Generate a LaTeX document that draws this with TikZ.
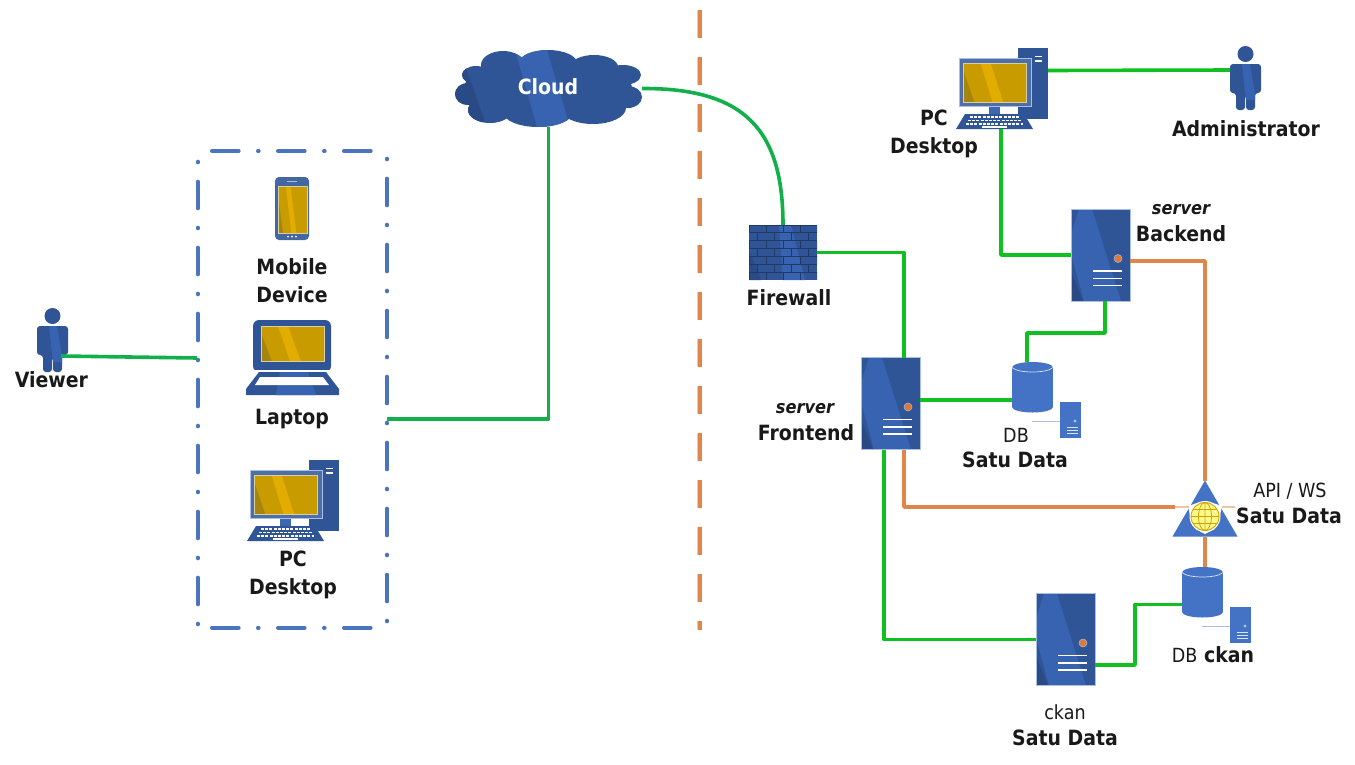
\documentclass[tikz,border=0pt]{standalone}
\usepackage{fontspec}
\setmainfont{DejaVu Sans Condensed}
\definecolor{bluebase}{HTML}{2F5597}
\definecolor{bluemid}{HTML}{3763B0}
\definecolor{bluedark}{HTML}{2A4A85}
\definecolor{blueflat}{HTML}{4472C4}
\definecolor{paleedge}{HTML}{A9C0E4}
\definecolor{scrbase}{HTML}{C89B00}
\definecolor{scrlight}{HTML}{E3AC00}
\definecolor{scrdark}{HTML}{A58410}
\definecolor{scredge}{HTML}{D8D0A0}
\definecolor{greenA}{HTML}{12B04A}
\definecolor{greenB}{HTML}{10C020}
\definecolor{orangeA}{HTML}{E0864A}
\definecolor{orangeDot}{HTML}{D9793A}
\definecolor{dashblue}{HTML}{4A75BE}
\newcommand{\myscreen}[4]{%
  \begin{scope}
    \clip (#1,#2) rectangle ++(#3,#4);
    \fill[scrbase] (#1,#2) rectangle ++(#3,#4);
    \fill[scrdark] (#1,#2) ++(0,0.2*#4) -- ++(0.17*#3,0.8*#4) -- ++(-0.17*#3,0) -- cycle;
    \fill[scrlight] (#1,#2) ++(0.27*#3,0) -- ++(0.16*#3,0) -- ++(0.2*#3,#4) -- ++(-0.17*#3,0) -- cycle;
  \end{scope}
  \draw[scredge,line width=0.8pt] (#1,#2) rectangle ++(#3,#4);}
\tikzset{
  x=1pt,y=-1pt,
  slot/.style={rectangle,inner sep=0pt,outer sep=0pt},
  lbl/.style={font=\fontsize{21}{28}\selectfont\bfseries,align=center,inner sep=0pt,text=black!90},
  lblthin/.style={font=\fontsize{19.5}{24}\selectfont,inner sep=0pt,text=black!90},
  lblsrv/.style={font=\fontsize{18}{22}\selectfont\itshape\bfseries,inner sep=0pt,text=black!90},
  linkA/.style={draw=greenA,line width=3.6pt,line join=round},
  linkB/.style={draw=greenB,line width=3.6pt,line join=round},
  linkO/.style={draw=orangeA,line width=3.6pt,line join=round},
  grpline/.style={dashblue,line width=3.6pt,line cap=round,dash pattern=on 27pt off 19pt on 1pt off 19pt},
  serverpic/.pic={
    \fill[bluebase] (0,0) rectangle (59,92);
    \fill[bluemid] (8,0) -- (21,0) -- (50,92) -- (13,92) -- (0,45) -- (0,25) -- cycle;
    \fill[bluedark] (0,62) -- (12,92) -- (0,92) -- cycle;
    \draw[paleedge,line width=0.6pt] (0,0) rectangle (59,92);
    \fill[orangeDot,draw=paleedge,line width=0.5pt] (47,49.5) circle (4pt);
    \draw[white,line width=1.6pt] (22,62)--(51,62) (22,69.5)--(51,69.5) (22,76.5)--(51,76.5);
  },
  personpic/.pic={
    \fill[bluebase] (15.5,8) circle (8pt);
    \fill[bluebase,rounded corners=3pt] (0,18)--(31,18)--(31,47)--(25,47)--(25,64)--(16,64)--(16,49)--(15,49)--(15,64)--(6,64)--(6,47)--(0,47)--cycle;
    \fill[bluemid] (12,18) -- (20,18) -- (25,48) -- (25,54) -- (16,54) -- cycle;
  },
  dbpic/.pic={
    \fill[blueflat] (0,5.5) rectangle (41,45);
    \fill[blueflat] (20.5,5.5) ellipse (20.5pt and 5.5pt);
    \fill[blueflat] (20.5,45) ellipse (20.5pt and 5.5pt);
    \draw[white!80!blueflat,line width=0.7pt] (0,5.5) .. controls (6,11.5) and (35,11.5) .. (41,5.5);
    \fill[blueflat] (48,40) rectangle (68.5,76);
    \draw[paleedge,line width=0.7pt] (20,59)--(48,59);
    \fill[paleedge] (63,59) circle (1.6pt);
    \draw[white!80!blueflat,line width=1pt] (55,65.5)--(66,65.5) (55,68.5)--(66,68.5) (55,71.5)--(66,71.5);
  },
  desktoppic/.pic={
    \fill[bluebase] (62,0) rectangle (92,71);
    \draw[white,line width=1.6pt] (79,8.5)--(86,8.5) (79,13)--(86,13);
    \fill[blueflat!90!black] (33,58) rectangle (44,67);
    \fill[bluebase!85!white,draw=paleedge,line width=0.6pt] (3,10) rectangle (75,58);
    \myscreen{7.5}{15}{63}{39}
    \fill[bluebase] (0,81) -- (77,81) -- (68,66) -- (9,66) -- cycle;
    \draw[white,line width=1.8pt,dash pattern=on 3pt off 1.2pt] (14,69)--(63,69) (12,72.5)--(65,72.5) (10,76)--(67,76);
    \draw[white,line width=1.8pt] (26,79)--(51,79);
  },
  laptoppic/.pic={
    \fill[bluebase,rounded corners=6pt] (7,0) rectangle (85,52);
    \fill[white] (5,50) rectangle (88,52);
    \myscreen{15}{6}{63}{35}
    \fill[bluebase] (0,75) -- (93,75) -- (93,69) -- (80,52) -- (13,52) -- (0,69) -- cycle;
    \fill[bluemid] (30,75) -- (70,75) -- (62,52) -- (34,52) -- cycle;
    \fill[white] (9,65) -- (83,65) -- (77,57) -- (14,57) -- cycle;
  },
  phonepic/.pic={
    \fill[bluebase!90!white,rounded corners=4pt] (0,0) rectangle (34,63);
    \myscreen{3}{9}{29}{47}
    \draw[paleedge,line width=1pt] (12,4.5)--(22,4.5);
    \fill[white] (13,59.5) circle (1pt) (17,59.5) circle (1pt) (21,59.5) circle (1pt);
  },
  firewallpic/.pic={
    \begin{scope}
      \clip (0,0) rectangle (68,55);
      \fill[bluebase] (0,0) rectangle (68,55);
      \fill[bluemid] (30,0) -- (42,0) -- (56,55) -- (34,55) -- cycle;
      \fill[bluedark] (0,25) -- (12,55) -- (0,55) -- cycle;
      \foreach \r in {0,...,6}{
        \draw[black!15!bluedark!90!black,line width=0.9pt] (0,7.86*\r) -- (68,7.86*\r);
        \pgfmathsetmacro{\off}{mod(\r,2)==0 ? 0 : 8.5}
        \foreach \c in {0,...,4}{
          \draw[black!15!bluedark!90!black,line width=0.9pt] (\off+17*\c,7.86*\r) -- (\off+17*\c,7.86*\r+7.86);
        }
      }
    \end{scope}
  },
  cloudpic/.pic={
    \begin{scope}
      \clip (48,15) ellipse (22pt and 14pt) (93,13) ellipse (29pt and 13pt) (139,17) ellipse (24pt and 12pt)
            (168,25) ellipse (18pt and 10pt) (173,47) ellipse (14pt and 11pt) (138,58) ellipse (33pt and 16pt)
            (83,62) ellipse (35pt and 15pt) (35,60) ellipse (22pt and 13pt) (13,44) ellipse (13pt and 11pt)
            (21,25) ellipse (14pt and 9pt) (93,38) ellipse (84pt and 27pt);
      \fill[bluebase] (0,0) rectangle (187,77);
      \fill[bluemid] (60,0) -- (92,0) -- (115,77) -- (82,77) -- cycle;
      \fill[bluedark] (0,10) -- (10,15) -- (30,72) -- (0,72) -- cycle;
    \end{scope}
  },
  globepic/.pic={
    \fill[blueflat] (32.5,0) -- (65,56) -- (0,56) -- cycle;
    \fill[white] (32.5,36) circle (15.5pt);
    \fill[white] (15.5,25.5) -- (26,22) -- (19,42) -- cycle;
    \fill[white] (49.5,25.5) -- (39,22) -- (46,42) -- cycle;
    \fill[white] (32.5,53.5) -- (22,48) -- (43,48) -- cycle;
    \fill[yellow!45!white] (32.5,36) circle (14pt);
    \draw[scrbase!90!yellow,line width=0.9pt] (32.5,36) circle (14pt);
    \draw[scrbase!90!yellow,line width=0.8pt] (32.5,36) ellipse (6.5pt and 14pt) (32.5,22)--(32.5,50) (18.5,36)--(46.5,36)
       (20.5,29)--(44.5,29) (20.5,43)--(44.5,43);
  }
}
\begin{document}
\begin{tikzpicture}
\useasboundingbox (0,0) rectangle (1355,764);
\fill[white] (0,0) rectangle (1355,764);

% device slots
\node[slot,minimum width=31pt,minimum height=64pt] (viewer) at (52.5,340) {};
\node[slot,minimum width=190pt,minimum height=476pt] (grp) at (292,389) {};
\node[slot,minimum width=34pt,minimum height=63pt] (phone) at (292,208.5) {};
\node[slot,minimum width=93pt,minimum height=75pt] (laptop) at (292.5,357.5) {};
\node[slot,minimum width=92pt,minimum height=81pt] (pcleft) at (293,500.5) {};
\node[slot,minimum width=187pt,minimum height=77pt] (cloud) at (548.5,88.5) {};
\node[slot,minimum width=68pt,minimum height=55pt] (fw) at (783,252.5) {};
\node[slot,minimum width=59pt,minimum height=92pt] (front) at (890.5,403.5) {};
\node[slot,minimum width=59pt,minimum height=92pt] (back) at (1100.5,255) {};
\node[slot,minimum width=59pt,minimum height=92pt] (ck) at (1065.5,639.5) {};
\node[slot,minimum width=41pt,minimum height=51pt] (db) at (1032.5,387.5) {};
\node[slot,minimum width=41pt,minimum height=51pt] (dbck) at (1202.5,592.5) {};
\node[slot,minimum width=92pt,minimum height=81pt] (pcright) at (1002,88.5) {};
\node[slot,minimum width=31pt,minimum height=64pt] (admin) at (1245.5,78) {};
\node[slot,minimum width=65pt,minimum height=56pt] (api) at (1205,508.5) {};
\coordinate (sepTop) at (700,10);
\coordinate (sepBot) at (700,630);
\coordinate (dbback) at (1066,333);
\coordinate (ckdb) at (1135,634);

% icons
\pic at (viewer.north west) {personpic};
\pic at (phone.north west) {phonepic};
\pic at (laptop.north west) {laptoppic};
\pic at (pcleft.north west) {desktoppic};
\pic at (cloud.north west) {cloudpic};
\pic at (fw.north west) {firewallpic};
\pic at (front.north west) {serverpic};
\pic at (back.north west) {serverpic};
\pic at (ck.north west) {serverpic};
\pic at (db.north west) {dbpic};
\pic at (dbck.north west) {dbpic};
\pic at (pcright.north west) {desktoppic};
\pic at (admin.north west) {personpic};
\pic at (api.north west) {globepic};

% group outline and separator
\draw[grpline] ([xshift=14.8pt]grp.north west) -- ([xshift=-14pt]grp.north east);
\draw[grpline] ([xshift=14.8pt,yshift=-0.7pt]grp.south west) -- ([xshift=-14pt,yshift=-0.7pt]grp.south east);
\draw[grpline,dash phase=46pt] ([yshift=-7.5pt]grp.north east) -- ([yshift=5.5pt]grp.south east);
\draw[grpline,dash phase=46pt] ([xshift=0.7pt,yshift=-10.5pt]grp.north west) -- ([xshift=0.7pt,yshift=2.5pt]grp.south west);
\draw[black!18,line width=3pt,dash pattern=on 28pt off 19pt] ([xshift=-2pt]sepTop) -- ([xshift=-2pt]sepBot);
\draw[orangeA,line width=3.6pt,dash pattern=on 28pt off 19pt] (sepTop) -- (sepBot);

% connectors
\draw[linkA] ([shift={(-7pt,-16pt)}]viewer.east) -- ([yshift=31pt]grp.west);
\draw[linkA] ([yshift=-30pt]grp.east) -| (cloud.south);
\draw[linkA] (cloud.east) .. controls (745,88) and (783,130) .. (fw.north);
\draw[linkB] (fw.east) -| ([xshift=13.5pt]front.north);
\draw[linkB] ([yshift=3.5pt]front.east) -- ([yshift=-12.5pt]db.west);
\draw[linkB] ([xshift=-5.5pt]db.north) |- (dbback) -| ([xshift=4.5pt]back.south);
\draw[linkB] (back.west) -| ([xshift=-1pt]pcright.south);
\draw[linkB] ([yshift=18pt]pcright.east) -- ([yshift=8pt]admin.west);
\draw[linkO] ([yshift=-6pt]back.east) -| (api.north);
\draw[linkO] ([xshift=13.5pt]front.south) |- ([shift={(2pt,1.5pt)}]api.west);
\draw[orangeA!50!white,line width=2.4pt] ([shift={(2pt,1.5pt)}]api.west) -- ([shift={(16pt,1.5pt)}]api.west);
\draw[orangeA!50!white,line width=2.4pt] ([shift={(-16pt,1.5pt)}]api.east) -- ([shift={(-3pt,1.5pt)}]api.east);
\draw[linkO] (api.south) -- ([xshift=2.5pt]dbck.north);
\draw[linkB] ([xshift=-6.5pt]front.south) |- (ck.west);
\draw[linkB] ([yshift=-25.5pt]ck.east) -| (ckdb) |- ([yshift=-12pt]dbck.west);

% labels
\node[lbl] (tviewer) at (51.5,380) {Viewer};
\node[lbl] (tphone) at (292,281) {Mobile\\Device};
\node[lbl] (tlaptop) at (292,419) {Laptop};
\node[lbl] (tpcl) at (293,574.5) {PC\\Desktop};
\node[lbl,text=white] (tcloud) at (548,87) {Cloud};
\node[lbl] (tfw) at (789,298) {Firewall};
\node[lblsrv] (tfrs) at (805,408.5) {server};
\node[lbl] (tfr) at (806,433) {Frontend};
\node[lblsrv] (tbks) at (1181,209.5) {server};
\node[lbl] (tbk) at (1181,234) {Backend};
\node[lbl] (tpcr) at (934,134) {PC\\Desktop};
\node[lbl] (tadm) at (1246,129) {Administrator};
\node[lblthin] (tdb) at (1016,435) {DB};
\node[lbl] (tdbn) at (1015,460) {Satu Data};
\node[lblthin] (tapi) at (1290,491) {API / WS};
\node[lbl] (tapin) at (1289,516) {Satu Data};
\node[lbl] (tdbck) at (1213,655) {{\fontsize{19.5}{24}\selectfont\mdseries DB} ckan};
\node[lblthin] (tck) at (1065,712) {ckan};
\node[lbl] (tckn) at (1065,738) {Satu Data};
\end{tikzpicture}
\end{document}
